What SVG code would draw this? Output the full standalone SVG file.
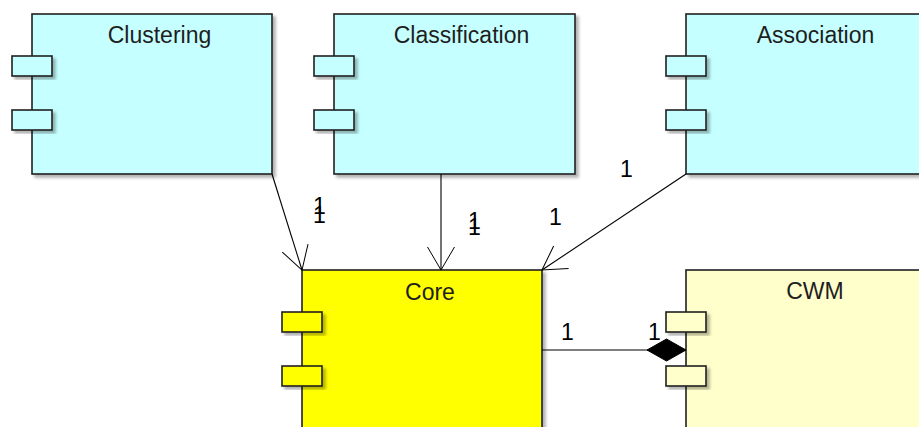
<svg xmlns="http://www.w3.org/2000/svg" width="919" height="427" viewBox="0 0 919 427">
  <defs>
    <filter id="shadow" x="-10%" y="-10%" width="130%" height="130%">
      <feDropShadow dx="3" dy="3" stdDeviation="1.5" flood-color="#000" flood-opacity="0.3"/>
    </filter>
    <marker id="open-arrow" markerUnits="userSpaceOnUse" markerWidth="40" markerHeight="40" viewBox="-30 -20 40 40" refX="0" refY="0" orient="auto">
      <path d="M -23 -13.5 L 0 0 L -23 13.5" fill="none" stroke="#000" stroke-width="1"/>
    </marker>
    <marker id="diamond" markerUnits="userSpaceOnUse" markerWidth="50" markerHeight="30" viewBox="-45 -15 50 30" refX="0" refY="0" orient="auto">
      <path d="M 0 0 L -19.5 -11 L -39 0 L -19.5 11 Z" fill="#000" stroke="#000" stroke-width="1"/>
    </marker>
  </defs>
  <style>
    .body { stroke: #1e1e1e; stroke-width: 1.6; filter: url(#shadow); }
    .port { stroke: #1e1e1e; stroke-width: 1.6; filter: url(#shadow); }
    .cyan { fill: #C6FFFF; }
    .yellow { fill: #FFFF00; }
    .cream { fill: #FFFFCC; }
    .title { font-family: "Liberation Sans", Arial, sans-serif; font-size: 23px; fill: #1e1e1e; text-anchor: middle; }
    .mult { font-family: "Liberation Sans", Arial, sans-serif; font-size: 23px; fill: #000; }
    .edge { fill: none; stroke: #000; stroke-width: 1.1; }
  </style>

  <g id="clustering">
    <rect class="body cyan" x="32" y="14" width="240" height="160"/>
    <rect class="port cyan" x="12" y="56" width="40" height="20"/>
    <rect class="port cyan" x="12" y="110" width="40" height="20"/>
    <text class="title" x="159.5" y="43">Clustering</text>
  </g>

  <g id="classification">
    <rect class="body cyan" x="334" y="14" width="241" height="160"/>
    <rect class="port cyan" x="314" y="56" width="40" height="20"/>
    <rect class="port cyan" x="314" y="110" width="40" height="20"/>
    <text class="title" x="461.5" y="43">Classification</text>
  </g>

  <g id="association">
    <rect class="body cyan" x="686" y="14" width="246" height="160"/>
    <rect class="port cyan" x="666" y="56" width="40" height="20"/>
    <rect class="port cyan" x="666" y="110" width="40" height="20"/>
    <text class="title" x="815.5" y="43">Association</text>
  </g>

  <g id="core">
    <rect class="body yellow" x="302" y="270" width="240" height="170"/>
    <rect class="port yellow" x="282" y="312" width="40" height="20"/>
    <rect class="port yellow" x="282" y="366" width="40" height="20"/>
    <text class="title" x="430" y="300">Core</text>
  </g>

  <g id="cwm">
    <rect class="body cream" x="686" y="270" width="246" height="170"/>
    <rect class="port cream" x="666" y="312" width="40" height="20"/>
    <rect class="port cream" x="666" y="366" width="40" height="20"/>
    <text class="title" x="815" y="299">CWM</text>
  </g>

  <g id="connectors">
    <path class="edge" d="M 272 174 L 302 270" marker-end="url(#open-arrow)"/>
    <path class="edge" d="M 441 174 L 441 270" marker-end="url(#open-arrow)"/>
    <path class="edge" d="M 686 174 L 542 270" marker-end="url(#open-arrow)"/>
    <path class="edge" d="M 542 350 L 686 350" marker-end="url(#diamond)"/>

    <text class="mult" x="313" y="214">1</text>
    <text class="mult" x="313" y="223">1</text>
    <text class="mult" x="468" y="229">1</text>
    <text class="mult" x="468" y="235">1</text>
    <text class="mult" x="620" y="177">1</text>
    <text class="mult" x="549" y="225">1</text>
    <text class="mult" x="561" y="340">1</text>
    <text class="mult" x="648" y="340">1</text>
  </g>
</svg>
